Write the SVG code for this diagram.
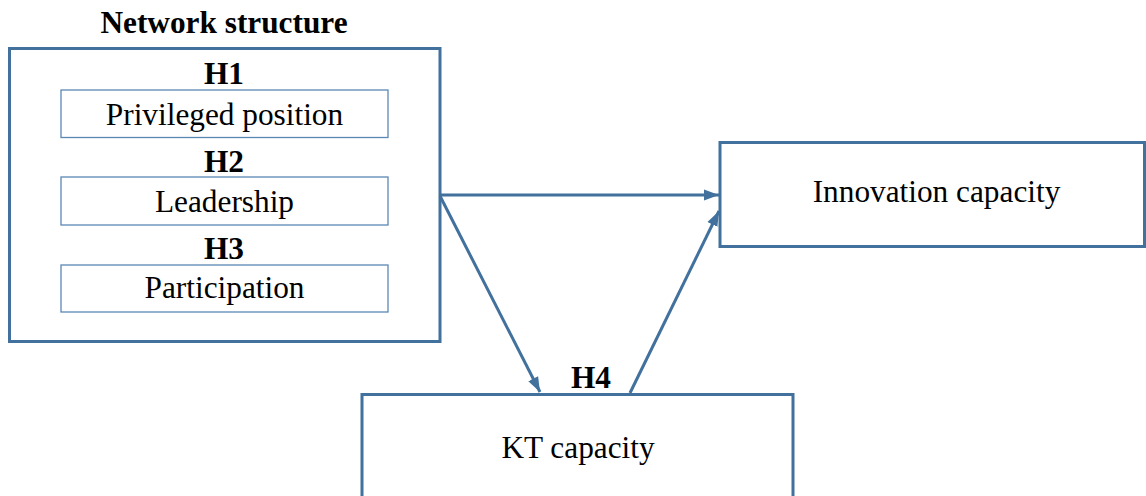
<svg xmlns="http://www.w3.org/2000/svg" width="1146" height="496" viewBox="0 0 1146 496">
<defs>
<style>
.box{fill:#fff;stroke:#41719C;stroke-width:3}
.inner{fill:#fff;stroke:#5B87B5;stroke-width:1.3}
.t{font-family:"Liberation Serif","Times New Roman",serif;font-size:31.3px;fill:#000;text-anchor:middle}
.b{font-weight:bold}
.conn{stroke:#41719C;stroke-width:3;fill:none;marker-end:url(#arr)}
</style>
<marker id="arr" markerUnits="userSpaceOnUse" markerWidth="16" markerHeight="14" viewBox="0 0 16 14" refX="15" refY="7" orient="auto">
<path d="M0,1.5 L15,7 L0,12.5 Z" fill="#41719C"/>
</marker>
</defs>
<g id="network-structure">
<text class="t b" x="224" y="33">Network structure</text>
<rect class="box" x="9.5" y="48.5" width="430.5" height="293"/>
<text class="t b" x="224" y="84">H1</text>
<g id="privileged-position">
<rect class="inner" x="61" y="90" width="327" height="47.5"/>
<text class="t" x="224.5" y="125">Privileged position</text>
</g>
<text class="t b" x="224" y="171.5">H2</text>
<g id="leadership">
<rect class="inner" x="61" y="177" width="327" height="48"/>
<text class="t" x="224.5" y="211.5">Leadership</text>
</g>
<text class="t b" x="224" y="259">H3</text>
<g id="participation">
<rect class="inner" x="61" y="265" width="327" height="47"/>
<text class="t" x="224.5" y="298">Participation</text>
</g>
</g>
<g id="innovation-capacity">
<rect class="box" x="720" y="142.5" width="424.5" height="104"/>
<text class="t" x="936.5" y="202">Innovation capacity</text>
</g>
<g id="kt-capacity">
<text class="t b" x="591" y="388">H4</text>
<rect class="box" x="362" y="394.5" width="431" height="110"/>
<text class="t" x="578" y="458">KT capacity</text>
</g>
<g id="connectors">
<path class="conn" d="M440,195 L719,195"/>
<path class="conn" d="M440,196 L540,392"/>
<path class="conn" d="M630,393 L719,211"/>
</g>
</svg>
